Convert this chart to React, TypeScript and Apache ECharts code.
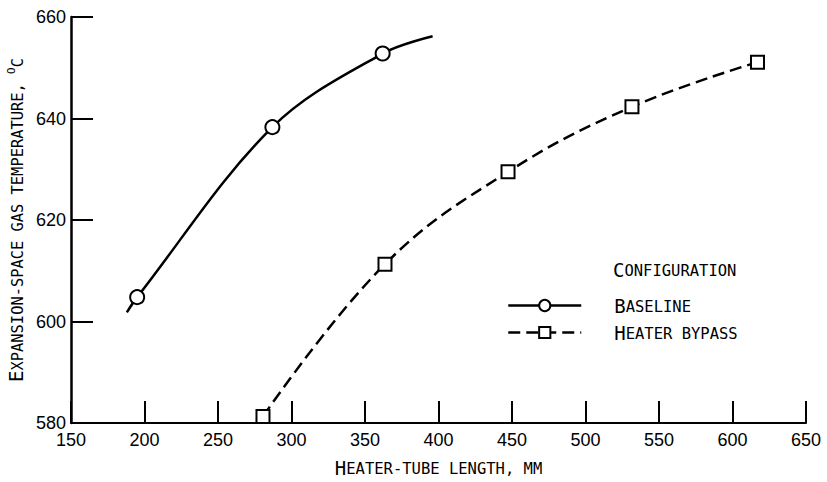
import { useEffect, useRef } from "react";
import * as echarts from "echarts";

// Baseline configuration (first and last points are curve ends without markers)
const baselineX = [188, 195, 287, 362, 396];
const baselineY = [601.8, 604.8, 638.3, 652.8, 656.2];
const baselineMarked = [false, true, true, true, false];

// Heater bypass configuration
const bypassX = [280.6, 363.6, 447.3, 531.6, 617];
const bypassY = [581.3, 611.3, 629.5, 642.3, 651.1];

const xMin = 150;
const xMax = 650;
const xStep = 50;
const yMin = 580;
const yMax = 660;
const yStep = 20;

const TICK_FONT = "'Liberation Sans Narrow', 'Liberation Sans', Arial, sans-serif";
const TITLE_FONT = "'DejaVu Sans Mono', 'Liberation Mono', monospace";

const capStyle = (size: number) => ({
  fontFamily: TITLE_FONT,
  fontSize: size,
  fontWeight: "normal" as const,
  color: "#000",
  verticalAlign: "bottom" as const,
});

const rich = {
  b: capStyle(19),
  s: capStyle(15.5),
  sup: { fontFamily: TITLE_FONT, fontSize: 11, color: "#000", verticalAlign: "top" as const },
};

const richY = {
  b: capStyle(19),
  s: capStyle(15.4),
  sup: { fontFamily: TITLE_FONT, fontSize: 11, color: "#000", verticalAlign: "top" as const },
};

export default function App() {
  const ref = useRef<HTMLDivElement>(null);

  useEffect(() => {
    if (!ref.current) return;
    const chart = echarts.init(ref.current, undefined, { renderer: "svg" });

    const baselineData = baselineX.map((x, i) =>
      baselineMarked[i]
        ? { value: [x, baselineY[i]] }
        : { value: [x, baselineY[i]], symbol: "none" }
    );
    const bypassData = bypassX.map((x, i) => [x, bypassY[i]]);

    chart.setOption({
      animation: false,
      backgroundColor: "#fff",
      title: {
        text: "{b|C}{s|ONFIGURATION}",
        left: 613,
        top: 260,
        padding: 0,
        textStyle: { rich, fontWeight: "normal" },
      },
      legend: {
        orient: "vertical",
        left: 507,
        top: 296,
        itemWidth: 73,
        itemHeight: 14,
        itemGap: 8,
        padding: 0,
        data: ["Baseline", "Heater bypass"],
        formatter: (name: string) =>
          name === "Baseline" ? "{b|B}{s|ASELINE}" : "{b|H}{s|EATER BYPASS}",
        textStyle: { rich, padding: [0, 0, 0, 28] },
        lineStyle: { width: 2.5 },
      },
      grid: {
        left: 71,
        top: 17,
        right: 21,
        bottom: 59,
        containLabel: false,
        outerBoundsMode: "none",
      },
      xAxis: {
        type: "value",
        min: xMin,
        max: xMax,
        interval: xStep,
        axisLine: { show: true, lineStyle: { color: "#000", width: 2 } },
        axisTick: { show: true, inside: true, length: 22, lineStyle: { color: "#000", width: 2 } },
        splitLine: { show: false },
        axisLabel: { color: "#000", fontFamily: TICK_FONT, fontSize: 18, margin: 8 },
        name: "{b|H}{s|EATER-TUBE LENGTH, MM}",
        nameLocation: "middle",
        nameGap: 35,
        nameTextStyle: { rich },
      },
      yAxis: {
        type: "value",
        min: yMin,
        max: yMax,
        interval: yStep,
        axisLine: { show: true, lineStyle: { color: "#000", width: 2.5 } },
        axisTick: { show: true, inside: true, length: 22, lineStyle: { color: "#000", width: 2 } },
        splitLine: { show: false },
        axisLabel: { color: "#000", fontFamily: TICK_FONT, fontSize: 18, margin: 5 },
        name: "{b|E}{s|XPANSION-SPACE GAS TEMPERATURE, }{sup|O}{s|C}",
        nameLocation: "middle",
        nameRotate: 90,
        nameGap: 30,
        nameTextStyle: { rich: richY },
      },
      series: [
        {
          name: "Baseline",
          type: "line",
          data: baselineData,
          smooth: 0.35,
          symbol: "circle",
          symbolSize: 14,
          showAllSymbol: true,
          lineStyle: { color: "#000", width: 2.5, type: "solid" },
          itemStyle: { color: "#fff", borderColor: "#000", borderWidth: 2 },
          z: 3,
        },
        {
          name: "Heater bypass",
          type: "line",
          data: bypassData,
          smooth: 0.4,
          symbol: "rect",
          symbolSize: 13,
          showAllSymbol: true,
          lineStyle: { color: "#000", width: 2.5, type: [12, 6] },
          itemStyle: { color: "#fff", borderColor: "#000", borderWidth: 2 },
          z: 3,
        },
      ],
    });

    return () => chart.dispose();
  }, []);

  return (
    <div
      ref={ref}
      style={{ position: "fixed", left: 0, top: 0, width: 827, height: 482, background: "#fff" }}
    />
  );
}
